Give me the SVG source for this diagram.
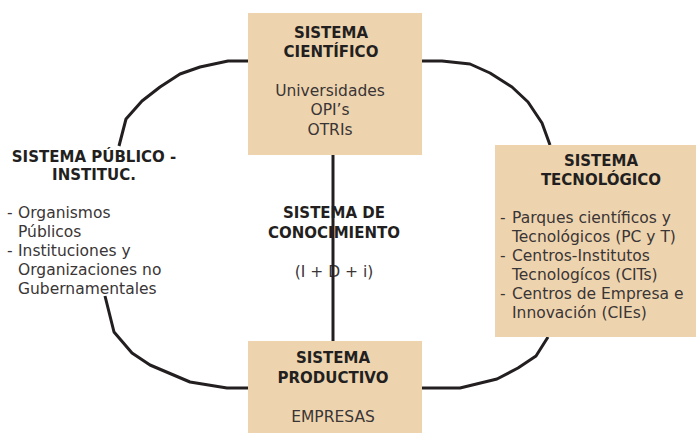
<svg xmlns="http://www.w3.org/2000/svg" width="696" height="433" viewBox="0 0 696 433">
<style>
.box{fill:#eed4ae;}
.t{font-family:"DejaVu Sans","Liberation Sans",sans-serif;font-size:15px;font-weight:bold;fill:#231f20;text-anchor:middle;}
.b{font-family:"DejaVu Sans","Liberation Sans",sans-serif;font-size:15.5px;fill:#3a3536;}
.c{text-anchor:middle;}
.ln{fill:none;stroke:#231f20;stroke-width:3;stroke-linejoin:round;stroke-linecap:butt;}
</style>
<rect width="696" height="433" fill="#ffffff"/>
<g id="conocimiento">
<text class="t" x="334" y="218">SISTEMA DE</text>
<text class="t" x="334" y="238">CONOCIMIENTO</text>
<text class="b c" x="334" y="277">(I + D + i)</text>
</g>
<g id="connectors">
<path class="ln" d="M248,61 L228,61 L200,67 L180,74 L160,87 L142,101 L126,119 L119,146"/>
<path class="ln" d="M422,61 L442,61 L470,64 L490,73 L512,87 L528,102 L542,123 L550,145"/>
<path class="ln" d="M548,337 L536,356 L518,368 L497,379 L460,388 L422,388"/>
<path class="ln" d="M105,296 L114,332 L132,353 L150,365 L190,382 L227,388 L248,388"/>
<path class="ln" d="M333,155 L333,341"/>
</g>
<g id="cientifico">
<rect class="box" x="248" y="13" width="174" height="142"/>
<text class="t" x="331" y="38">SISTEMA</text>
<text class="t" x="331" y="57">CIENTÍFICO</text>
<text class="b c" x="330" y="96">Universidades</text>
<text class="b c" x="330" y="115">OPI’s</text>
<text class="b c" x="330" y="135">OTRIs</text>
</g>
<g id="tecnologico">
<rect class="box" x="495" y="145" width="201" height="192"/>
<text class="t" x="601" y="166">SISTEMA</text>
<text class="t" x="601" y="185">TECNOLÓGICO</text>
<text class="b" x="500" y="223">-</text>
<text class="b" x="512" y="223">Parques científicos y</text>
<text class="b" x="512" y="242">Tecnológicos (PC y T)</text>
<text class="b" x="500" y="261">-</text>
<text class="b" x="512" y="261">Centros-Institutos</text>
<text class="b" x="512" y="280">Tecnologícos (CITs)</text>
<text class="b" x="500" y="299">-</text>
<text class="b" x="512" y="299">Centros de Empresa e</text>
<text class="b" x="512" y="318">Innovación (CIEs)</text>
</g>
<g id="publico">
<text class="t" x="94" y="162">SISTEMA PÚBLICO -</text>
<text class="t" x="94" y="180">INSTITUC.</text>
<text class="b" x="7" y="218">-</text>
<text class="b" x="18" y="218">Organismos</text>
<text class="b" x="18" y="237">Públicos</text>
<text class="b" x="7" y="256">-</text>
<text class="b" x="18" y="256">Instituciones y</text>
<text class="b" x="18" y="275">Organizaciones no</text>
<text class="b" x="18" y="294">Gubernamentales</text>
</g>
<g id="productivo">
<rect class="box" x="248" y="341" width="174" height="92"/>
<text class="t" x="333" y="363">SISTEMA</text>
<text class="t" x="333" y="383">PRODUCTIVO</text>
<text class="b c" x="333" y="422">EMPRESAS</text>
</g>
</svg>
